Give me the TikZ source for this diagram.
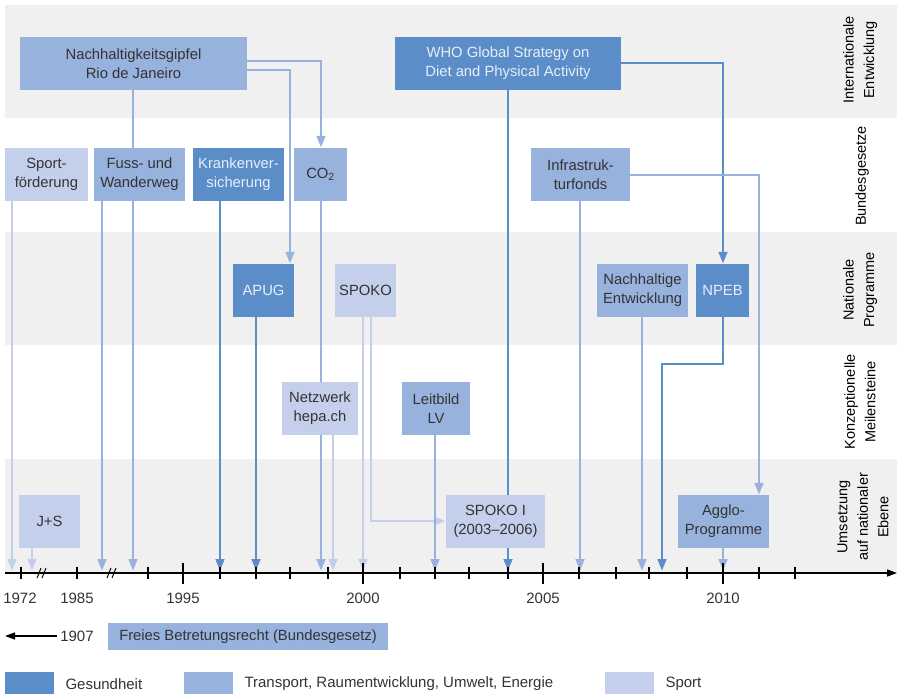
\documentclass[tikz,border=0pt]{standalone}
\usepackage{fontspec}
\setmainfont{Liberation Sans}
\usetikzlibrary{arrows.meta}
\definecolor{gesund}{HTML}{5B8DC9}
\definecolor{verkehr}{HTML}{98B2DE}
\definecolor{sport}{HTML}{C4D0EB}
\definecolor{bandgray}{HTML}{F0F0F0}
\definecolor{boxtext}{HTML}{333333}
\definecolor{lighttext}{HTML}{E8EEF8}
\pgfdeclarelayer{bands}
\pgfdeclarelayer{lines}
\pgfsetlayers{bands,lines,main}
\tikzset{
  box/.style={inner sep=0pt, align=center, minimum height=53pt, text=boxtext,
    font=\fontsize{14.8}{19}\selectfont},
  gesbox/.style={box, fill=gesund, text=lighttext},
  verbox/.style={box, fill=verkehr},
  spobox/.style={box, fill=sport},
  link/.style={line width=2.9pt, -{Triangle[length=12pt,width=8.5pt]}},
  gesline/.style={link, draw=gesund},
  verline/.style={link, draw=verkehr},
  spoline/.style={link, draw=sport},
  rowlabel/.style={rotate=90, align=center, font=\fontsize{14.5}{20.5}\selectfont},
  year/.style={font=\fontsize{15}{19}\selectfont, text=boxtext},
  legendbox/.style={minimum width=49pt, minimum height=22pt, inner sep=0pt},
}
\begin{document}
\begin{tikzpicture}[x=1pt,y=-1pt]
    \useasboundingbox (0,0) rectangle (897,695);
    % Bands
    \begin{pgfonlayer}{bands}
    \foreach \top in {5,232,459}
        \fill[bandgray] (5,\top) rectangle (897,\top+113);
    \end{pgfonlayer}
    % Row labels
    \node[rowlabel] (intl) at (860,60) {Internationale\\Entwicklung};
    \node[rowlabel] (bund) at (862,176) {Bundesgesetze};
    \node[rowlabel] (natprog) at (860,290) {Nationale\\Programme};
    \node[rowlabel] (konz) at (860,402) {Konzeptionelle\\Meilensteine};
    \node[rowlabel] (umsetz) at (863,517) {Umsetzung\\auf nationaler\\Ebene};
    % International
    \node[verbox, minimum width=227pt] (rio) at (133.5,63.5) {Nachhaltigkeitsgipfel\\Rio de Janeiro};
    \node[gesbox, minimum width=226pt] (who) at (508,63.5) {WHO Global Strategy on\\Diet and Physical Activity};
    % Bundesgesetze
    \node[spobox, minimum width=83pt] (sportf) at (46.5,174.5) {Sport-\\förderung};
    \node[verbox, minimum width=91pt] (fuss) at (139.5,174.5) {Fuss- und\\Wanderweg};
    \node[gesbox, minimum width=91pt] (kv) at (238.5,174.5) {Krankenver-\\sicherung};
    \node[verbox, minimum width=53pt] (co2) at (320.5,174.5) {CO\textsubscript{2}};
    \node[verbox, minimum width=99pt] (infra) at (580.5,174.5) {Infrastruk-\\turfonds};
    % Nationale Programme
    \node[gesbox, minimum width=61pt] (apug) at (263.5,290.5) {APUG};
    \node[spobox, minimum width=61pt] (spoko) at (365.5,290.5) {SPOKO};
    \node[verbox, minimum width=91pt] (nachent) at (642.5,290.5) {Nachhaltige\\Entwicklung};
    \node[gesbox, minimum width=53pt] (npeb) at (722.5,290.5) {NPEB};
    % Konzeptionelle Meilensteine
    \node[spobox, minimum width=76pt] (hepa) at (320,408.5) {Netzwerk\\hepa.ch};
    \node[verbox, minimum width=68pt] (leitbild) at (436,408.5) {Leitbild\\LV};
    % Umsetzung
    \node[spobox, minimum width=61pt] (js) at (49.5,521.5) {J+S};
    \node[spobox, minimum width=99pt] (spokoi) at (495.5,521.5) {SPOKO I\\(2003--2006)};
    \node[verbox, minimum width=91pt] (agglo) at (723.5,521.5) {Agglo-\\Programme};
    % Time axis
    \draw[line width=1.4pt, -{Triangle[length=10pt,width=7pt]}] (5,573) -- (897,573);
    \foreach \x in {21,77,148,220,256,290,328,400,435,469,508,579,616,649,687,759,795}
        \draw[line width=1.4pt] (\x,567) -- (\x,579);
    \foreach \x/\yr in {183/1995,363/2000,543/2005,723/2010} {
        \draw[line width=1.4pt] (\x,563) -- (\x,584);
        \node[year] (yr\yr) at (\x,598) {\yr};
    }
    \node[year] (yr1972) at (20,598) {1972};
    \node[year] (yr1985) at (77,598) {1985};
    % axis breaks
    \foreach \x in {42,112}
        \draw[line width=1pt] (\x-5,578) -- (\x-1,568) (\x,578) -- (\x+4,568);
    % Arrow ends on the axis
    \foreach \name/\x in {sportf/12,js/32,fuss/102,rio/133,kv/220,apug/256,co2/321,hepa/333,
        spoko/363,leitbild/435,who/508,infra/580,nachent/642,npeb/662,agglo/723}
        \coordinate (ax-\name) at (\x,571);
    % Bends
    \coordinate (k-apug) at (290,70);
    \coordinate (k-co2) at (321,61);
    \coordinate (k-spoko) at (371,521);
    \coordinate (k-npeb) at (723,63);
    \coordinate (k-npeb2) at (662,364);
    \coordinate (k-agglo) at (759,175);
    % Connectors
    \begin{pgfonlayer}{lines}
    \draw[spoline] (sportf.south -| ax-sportf) -- (ax-sportf);
    \draw[spoline] (js.south -| ax-js) -- (ax-js);
    \draw[verline] (fuss.south -| ax-fuss) -- (ax-fuss);
    \draw[verline] (rio.south -| ax-rio) -- (ax-rio);
    \draw[gesline] (kv.south -| ax-kv) -- (ax-kv);
    \draw[gesline] (apug.south -| ax-apug) -- (ax-apug);
    \draw[verline] (rio.east |- k-apug) -- (k-apug) -- (apug.north -| k-apug);
    \draw[verline] (rio.east |- k-co2) -- (k-co2) -- (co2.north -| k-co2);
    \draw[verline] (co2.south -| ax-co2) -- (ax-co2);
    \draw[spoline] (hepa.south -| ax-hepa) -- (ax-hepa);
    \draw[spoline] (spoko.south -| ax-spoko) -- (ax-spoko);
    \draw[spoline] (spoko.south -| k-spoko) -- (k-spoko) -- (spokoi.west |- k-spoko);
    \draw[verline] (leitbild.south -| ax-leitbild) -- (ax-leitbild);
    \draw[gesline] (who.south -| ax-who) -- (ax-who);
    \draw[gesline] (who.east |- k-npeb) -- (k-npeb) -- (npeb.north -| k-npeb);
    \draw[verline] (infra.south -| ax-infra) -- (ax-infra);
    \draw[verline] (infra.east |- k-agglo) -- (k-agglo) -- (agglo.north -| k-agglo);
    \draw[verline] (nachent.south -| ax-nachent) -- (ax-nachent);
    \draw[gesline] (npeb.south -| k-npeb) |- (k-npeb2) -- (ax-npeb);
    \draw[verline] (agglo.south -| ax-agglo) -- (ax-agglo);
    \end{pgfonlayer}
    % 1907 row
    \node[year] (yr1907) at (77,636) {1907};
    \coordinate (past) at (5,636);
    \draw[line width=1.2pt, -{Triangle[length=10pt,width=7pt]}] (yr1907.west) -- (past);
    \node[verbox, minimum width=280pt, minimum height=27pt] (freies) at (248,636.5) {Freies Betretungsrecht (Bundesgesetz)};
    % Legend
    \node[legendbox, fill=gesund] (lg-ges) at (29.5,683) {};
    \node[year, anchor=west] (lt-ges) at (62,684) {Gesundheit};
    \node[legendbox, fill=verkehr] (lg-ver) at (208.5,683) {};
    \node[year, anchor=west] (lt-ver) at (241,684) {Transport, Raumentwicklung, Umwelt, Energie};
    \node[legendbox, fill=sport] (lg-spo) at (629.5,683) {};
    \node[year, anchor=west] (lt-spo) at (662,684) {Sport};
\end{tikzpicture}
\end{document}
